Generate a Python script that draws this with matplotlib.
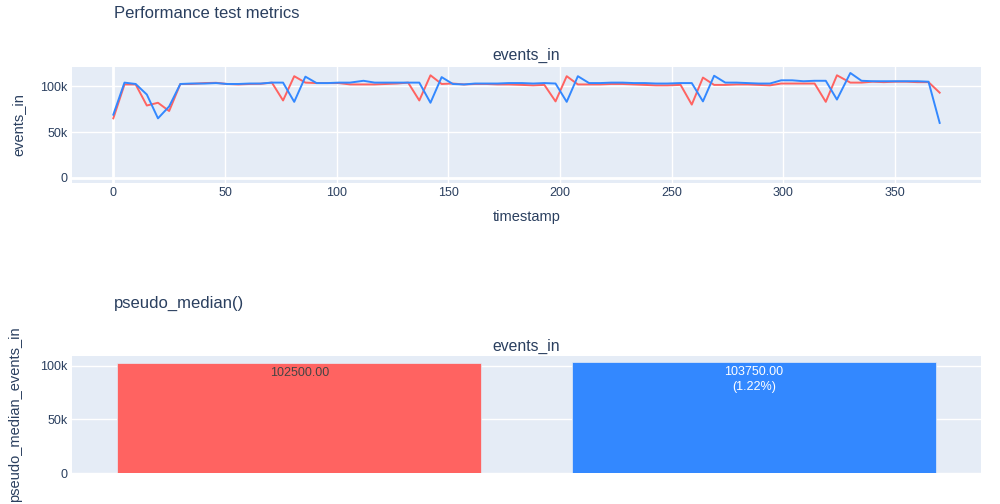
import matplotlib
matplotlib.use("Agg")
import matplotlib.pyplot as plt
from matplotlib.ticker import FuncFormatter

plt.rcParams['font.family'] = ['Liberation Sans', 'DejaVu Sans']

# timestamps of the samples (seconds)
timestamp = [0, 5, 10, 15, 20, 25, 30, 35, 41, 46, 51, 56, 61, 66, 71, 76, 81, 86, 91, 96,
             101, 106, 112, 117, 122, 127, 132, 137, 142, 147, 152, 157, 162, 167, 172, 177,
             183, 188, 193, 198, 203, 208, 213, 218, 223, 228, 233, 238, 243, 248, 254, 259,
             264, 269, 274, 279, 284, 289, 294, 299, 304, 309, 314, 319, 324, 330, 335, 340,
             345, 350, 355, 360, 365, 370]

# events_in, thousands
run_a = [65, 102, 102, 79, 82, 73, 102.5, 102.5, 103.5, 103.8, 102.5, 102, 102.5, 102.7,
         104, 84.5, 111, 104, 103.5, 103.5, 103.5, 102, 102, 102, 102.5, 103, 104, 84.5,
         112, 102.5, 103, 102, 102.5, 102.5, 102, 102, 101.5, 101, 101.5, 83.5, 111, 102,
         102, 102, 102.5, 102.5, 102, 101.5, 101, 101, 101.5, 80, 109.5, 101.5, 101.5, 102,
         102, 101.5, 101, 103, 103, 103, 103, 83, 112, 104, 104, 105, 104.5, 105, 105,
         104.5, 104.5, 93]
run_b = [69, 104, 102.5, 91, 65, 78, 102.5, 103, 103, 103.5, 102.5, 102.5, 103, 103, 104,
         104, 83, 110.5, 103.5, 103.5, 104, 104, 106, 104, 104, 104, 104, 104, 82, 110,
         102.5, 102, 103, 103, 103, 103.5, 103.5, 103, 103.5, 103, 83, 111, 103.5, 103.5,
         104, 104, 103.5, 103.5, 103, 103, 103.5, 103.5, 83.5, 111.5, 104, 104, 103.5, 103,
         103, 106.5, 106.5, 105.5, 106, 106, 85.5, 114.5, 106, 105.5, 105.5, 105.5, 105.5,
         105.5, 105, 60]

median_values = [102500, 103750]

red = '#FF6361'
blue = '#3388FF'
bg = '#E5ECF6'
txt = '#2a3f5f'

fig = plt.figure(figsize=(10, 5.04), dpi=100)
ax1 = fig.add_axes([0.072, 0.637, 0.909, 0.230])
ax2 = fig.add_axes([0.072, 0.0615, 0.909, 0.232])

kfmt = FuncFormatter(lambda v, p: '0' if v == 0 else '%dk' % (v / 1000))

for ax in (ax1, ax2):
    ax.set_facecolor(bg)
    for s in ax.spines.values():
        s.set_visible(False)
    ax.tick_params(length=0, labelsize=9, labelcolor=txt, pad=3)
    ax.yaxis.set_major_formatter(kfmt)
    ax.set_axisbelow(True)

# top: line chart
ax1.plot(timestamp, [v * 1000 for v in run_a], color=red, lw=1.4, zorder=3)
ax1.plot(timestamp, [v * 1000 for v in run_b], color=blue, lw=1.4, zorder=3)
ax1.set_xlim(-18.5, 388.5)
ax1.set_ylim(-5500, 121000)
ax1.set_xticks([0, 50, 100, 150, 200, 250, 300, 350])
ax1.set_yticks([0, 50000, 100000])
ax1.grid(True, color='white', lw=1)
ax1.axhline(0, color='white', lw=2, zorder=1)
ax1.axvline(0, color='white', lw=2, zorder=1)
ax1.set_xlabel('timestamp', fontsize=10.5, color=txt, labelpad=8)
ax1.set_ylabel('events_in', fontsize=10.5, color=txt)
ax1.yaxis.set_label_coords(-0.0517, 0.5)

# bottom: pseudo median bars
pos = [0, 1]
ax2.bar(pos, median_values, width=0.8, color=[red, blue], edgecolor=bg, lw=0.5, zorder=3)
ax2.set_xlim(-0.5, 1.5)
ax2.set_ylim(0, 109200)
ax2.set_xticks([])
ax2.set_yticks([0, 50000, 100000])
ax2.grid(True, axis='y', color='white', lw=1)
ax2.set_ylabel('pseudo_median_events_in', fontsize=10.5, color=txt)
ax2.yaxis.set_label_coords(-0.055, 0.5)

base = median_values[0]
for i, v in enumerate(median_values):
    label = '%.2f' % v
    col = '#444444'
    if i > 0:
        label += '\n(%.2f%%)' % ((v - base) / base * 100)
        col = 'white'
    ax2.annotate(label, xy=(pos[i], v), xytext=(0, -3), textcoords='offset points',
                 ha='center', va='top', fontsize=9, color=col, linespacing=1.35, zorder=4)

fig.text(0.114, 1 - 14 / 504, 'Performance test metrics', fontsize=12, color=txt,
         ha='left', va='center')
fig.text(0.5265, 1 - 55 / 504, 'events_in', fontsize=11.3, color=txt, ha='center', va='center')
fig.text(0.114, 1 - 303 / 504, 'pseudo_median()', fontsize=12, color=txt,
         ha='left', va='center')
fig.text(0.5265, 1 - 346 / 504, 'events_in', fontsize=11.3, color=txt, ha='center', va='center')

fig.savefig('out.png', dpi=100)
